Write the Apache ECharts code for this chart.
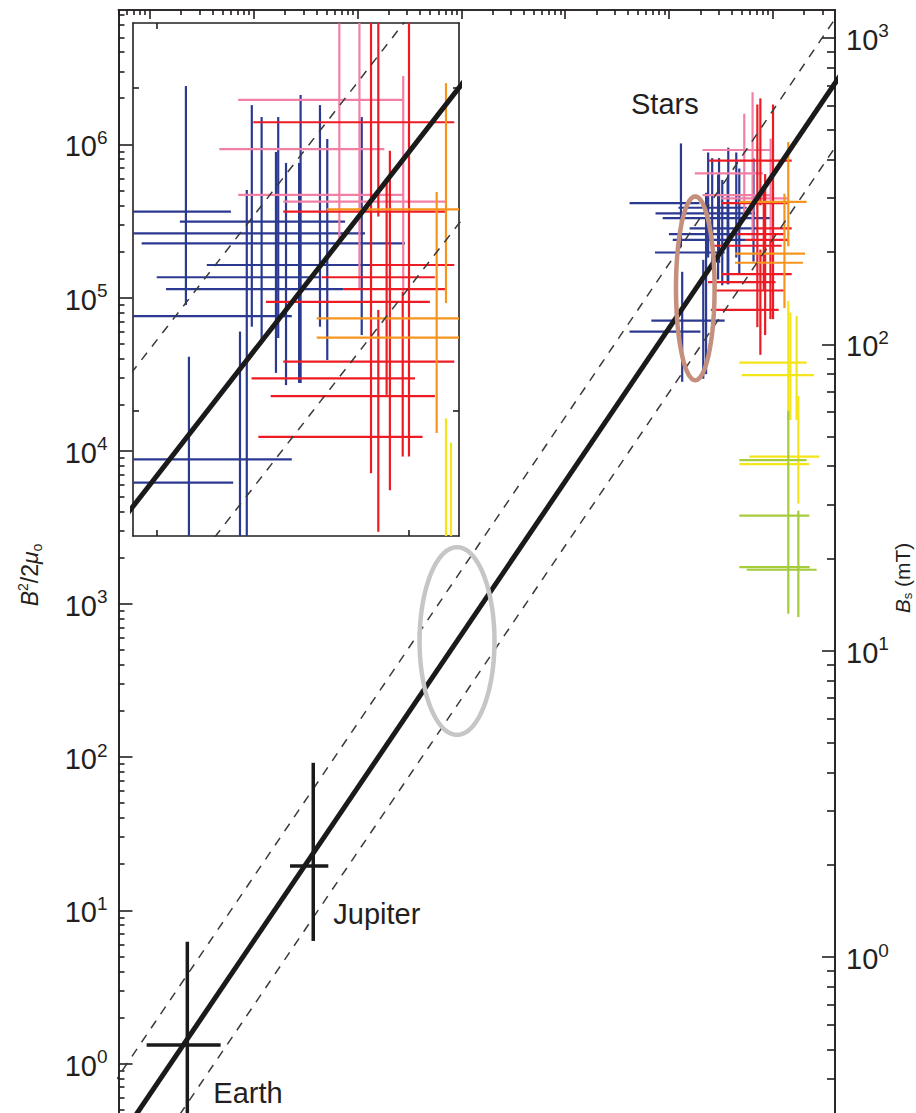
<!DOCTYPE html>
<html><head><meta charset="utf-8">
<script src="https://cdn.jsdelivr.net/npm/echarts@6/dist/echarts.min.js"></script>
<style>html,body{margin:0;padding:0;background:#fff}#c{width:916px;height:1113px}</style>
</head><body><div id="c"></div>
<script>
// ---------- DATA (all values are log10) ----------
// x: log10 of the abscissa (its labels are cropped off), y: log10(B^2/2mu0)
const eDecades = [0, 1, 2, 3, 4, 5, 6];          // left-axis labels 10^n
const bDecades = [0, 1, 2, 3];                   // right-axis labels 10^n (mT)
const xDecades = [0, 1, 2, 3, 4, 5, 6];          // top-axis major ticks
const insetDecades = [5, 6];                     // inset ticks

// model line and its dashed envelope
const fitLineX   = [-1, 7];
const fitLineY   = [-1.2, 6.8];
const dashUpperY = [-0.78, 7.22];
const dashLowerY = [-1.62, 6.38];

// planets: centre and error ranges
const planetNames = ['Earth', 'Jupiter'];
const planetX   = [0.36, 1.573];
const planetXLo = [-0.032, 1.349];
const planetXHi = [0.681, 1.718];
const planetY   = [0.121, 1.289];
const planetYLo = [-0.9, 0.80];
const planetYHi = [0.795, 1.963];

// stars: horizontal bars [y, xLo, xHi] and vertical bars [x, yLo, yHi]
const blueH = [[5.617,4.62,5.294],[5.586,5.091,5.748],[5.550,4.87,5.827],[5.519,4.939,5.986],
  [5.452,5.198,5.854],[5.414,4.999,5.648],[5.377,5.036,5.740],[5.294,4.865,5.536],
  [4.850,4.83,5.536],[4.778,4.62,5.303]];
const blueV = [[5.115,5.328,6.006],[5.127,4.45,5.168],[5.330,4.47,5.246],[5.357,4.50,5.684],
  [5.377,5.261,5.947],[5.416,5.220,5.910],[5.482,5.226,5.910],[5.473,5.118,5.802],
  [5.571,5.087,5.978],[5.565,5.087,5.768],[5.513,5.080,5.768],[5.648,5.261,5.947],
  [5.677,5.158,5.842],[5.814,5.235,5.910]];
const pinkH = [[5.963,5.323,5.979],[5.811,5.248,5.904],[5.669,5.323,5.979],[5.648,5.502,6.152]];
const pinkV = [[5.725,5.520,6.20],[5.805,5.381,6.34],[5.979,5.369,6.037]];
const redH = [[5.894,5.383,6.182],[5.617,5.502,6.145],[5.452,5.854,6.182],[5.414,5.655,6.105],
  [5.377,5.740,6.145],[5.338,5.433,6.085],[5.153,5.502,6.182],[5.101,5.376,6.026],
  [5.046,5.452,6.105],[4.920,5.403,6.056]];
const redV = [[5.851,4.807,6.26],[5.880,5.602,6.30],[5.880,4.626,5.313],[5.913,5.050,5.715],
  [5.926,4.755,5.806],[6.002,4.859,6.26],[5.977,4.859,5.369]];
const orangeH = [[5.624,5.675,6.326],[5.287,5.635,6.31],[5.227,5.635,6.29]];
const orangeV = [[6.149,5.334,6.015],[6.112,4.932,5.678]];
const yellowH = [[4.575,5.677,6.326],[4.493,5.700,6.397],[3.961,5.773,6.447],[3.913,5.677,6.351]];
const yellowV = [[6.149,4.20,4.977],[6.169,4.20,4.902],[6.229,4.20,4.879],[6.246,3.655,4.358]];
const greenH = [[3.939,5.677,6.326],[3.577,5.677,6.351],[3.240,5.677,6.355],[3.223,5.749,6.422]];
const greenV = [[6.149,2.936,4.261],[6.246,2.914,3.609]];

// highlighted regions: [cx, cy, rx, ry] in decades
const grayEllipse  = [2.958, 2.758, 0.361, 0.613];
const brownEllipse = [5.253, 5.060, 0.186, 0.600];

// ---------- LAYOUT ----------
const MX = [-0.303, 6.599], MY = [-0.323, 6.877];
const toB = v => (v - 0.695) / 2;                 // log10(E) -> log10(Bs / mT)
const IX = [4.9046, 6.2008], IY = [4.6130, 6.2012];
const INK = '#231f20', FONT = 'Liberation Sans, Arial, sans-serif';

function minorTicks(lo, hi) {
  const out = [];
  for (let n = Math.floor(lo) - 1; n <= Math.ceil(hi); n++)
    for (let k = 2; k <= 9; k++) { const v = n + Math.log10(k); if (v > lo && v < hi) out.push(v); }
  return out;
}
const lineAx = {show: true, onZero: false, lineStyle: {color: INK, width: 1.6}};
function axis(gridIndex, position, range, ticks, len, extra) {
  return Object.assign({
    type: 'value', gridIndex, position, min: range[0], max: range[1],
    axisLine: lineAx, splitLine: {show: false},
    axisTick: {show: true, inside: true, length: len, customValues: ticks, lineStyle: {color: INK, width: 1.6}},
    axisLabel: {show: false}
  }, extra || {});
}
const powLabel = (vals, align) => ({
  show: true, customValues: vals, margin: 11, align,
  formatter: v => '{b|10}{s|' + Math.round(v) + '}',
  rich: {b: {fontSize: 29, fontFamily: FONT, color: INK, lineHeight: 33, verticalAlign: 'bottom'},
         s: {fontSize: 19, fontFamily: FONT, color: INK, lineHeight: 19, verticalAlign: 'top'}}
});

function segs(H, V) {
  return H.map(h => [h[1], h[0], h[2], h[0]]).concat(V.map(v => [v[0], v[1], v[0], v[2]]));
}
function barSeries(data, color, xi, yi, w, z) {
  return {
    type: 'custom', xAxisIndex: xi, yAxisIndex: yi, clip: true, silent: true, z: z || 2,
    data, encode: {x: [0, 2], y: [1, 3]},
    renderItem(params, api) {
      const cs = params.coordSys;
      const a = api.coord([api.value(0), api.value(1)]);
      const b = api.coord([api.value(2), api.value(3)]);
      const x0 = cs.x, x1 = cs.x + cs.width, y0 = cs.y, y1 = cs.y + cs.height;
      const cl = (v, lo, hi) => Math.max(lo, Math.min(hi, v));
      if (Math.abs(a[1] - b[1]) < 0.01 && (a[1] < y0 || a[1] > y1)) return;
      if (Math.abs(a[0] - b[0]) < 0.01 && (a[0] < x0 || a[0] > x1)) return;
      const s = {x1: cl(a[0], x0, x1), y1: cl(a[1], y0, y1), x2: cl(b[0], x0, x1), y2: cl(b[1], y0, y1)};
      if (s.x1 === s.x2 && s.y1 === s.y2) return;
      return {type: 'line', shape: s, style: {stroke: color, lineWidth: w}};
    }
  };
}
const starSets = [
  ['#2b3990', segs(blueH, blueV)], ['#f27fa5', segs(pinkH, pinkV)], ['#ed1c24', segs(redH, redV)],
  ['#f7941e', segs(orangeH, orangeV)], ['#f3e51a', segs(yellowH, yellowV)], ['#a6cb3b', segs(greenH, greenV)]
];
function ellipsePts(e) {
  const pts = [];
  for (let i = 0; i <= 90; i++) { const t = i / 90 * 2 * Math.PI; pts.push([e[0] + e[2] * Math.cos(t), e[1] + e[3] * Math.sin(t)]); }
  return pts;
}
const pair = (xs, ys) => xs.map((x, i) => [x, ys[i]]);

const series = [];
// main grid (x0, y0) and inset (x2, y4)
[[0, 0, 2.2], [2, 4, 2.2]].forEach(([xi, yi, w]) => {
  starSets.forEach(([c, d]) => series.push(barSeries(d, c, xi, yi, w)));
  [dashUpperY, dashLowerY].forEach(ys => series.push({
    type: 'line', xAxisIndex: xi, yAxisIndex: yi, data: pair(fitLineX, ys), symbol: 'none', silent: true, z: 4,
    lineStyle: {color: '#3a3a3a', width: 1.5, type: [9, 8]}
  }));
  series.push({type: 'line', xAxisIndex: xi, yAxisIndex: yi, data: pair(fitLineX, fitLineY), symbol: 'none', silent: true, z: 5,
    lineStyle: {color: '#1a1a1a', width: 5}});
});
// ellipses (main only)
series.push({type: 'line', xAxisIndex: 0, yAxisIndex: 0, data: ellipsePts(grayEllipse), symbol: 'none', silent: true, z: 6,
  lineStyle: {color: '#c6c6c6', width: 4.5}});
series.push({type: 'line', xAxisIndex: 0, yAxisIndex: 0, data: ellipsePts(brownEllipse), symbol: 'none', silent: true, z: 6,
  lineStyle: {color: '#c48f7c', width: 4.5}});
// planets
const planetSegs = [];
planetNames.forEach((n, i) => {
  planetSegs.push([planetXLo[i], planetY[i], planetXHi[i], planetY[i]]);
  planetSegs.push([planetX[i], planetYLo[i], planetX[i], planetYHi[i]]);
});
series.push(barSeries(planetSegs, '#1a1a1a', 0, 0, 3.5, 7));
const labelOffsets = [[26, 48], [20, 48]];   // label placement next to each cross, px
series.push({
  type: 'custom', xAxisIndex: 0, yAxisIndex: 0, silent: true, z: 8,
  data: planetNames.map((n, i) => [planetX[i], planetY[i], i]),
  renderItem(params, api) {
    const p = api.coord([api.value(0), api.value(1)]);
    const i = api.value(2);
    return {type: 'text', x: p[0] + labelOffsets[i][0], y: p[1] + labelOffsets[i][1],
      style: {text: planetNames[i], fontSize: 29, fontFamily: FONT, fill: INK, align: 'left', verticalAlign: 'middle'}};
  }
});

const option = {
  animation: false,
  backgroundColor: '#fff',
  grid: [
    {left: 118.5, right: 81, top: 10, bottom: 0},
    {left: 133, right: 457, top: 23, bottom: 577}
  ],
  xAxis: [
    axis(0, 'top', MX, xDecades, 9),
    axis(0, 'top', MX, minorTicks(MX[0], MX[1]), 5),
    axis(1, 'bottom', IX, insetDecades, 6),
    axis(1, 'top', IX, insetDecades, 6)
  ],
  yAxis: [
    axis(0, 'left', MY, eDecades, 14, {axisLabel: powLabel(eDecades, 'right')}),
    axis(0, 'left', MY, minorTicks(MY[0], MY[1]), 6),
    axis(0, 'right', [toB(MY[0]), toB(MY[1])], bDecades, 13, {axisLabel: powLabel(bDecades, 'left')}),
    axis(0, 'right', [toB(MY[0]), toB(MY[1])], minorTicks(toB(MY[0]), toB(MY[1])), 8),
    axis(1, 'left', IY, insetDecades, 6),
    axis(1, 'right', IY, insetDecades, 6)
  ],
  graphic: [
    {type: 'text', x: 631, y: 104, silent: true, style: {text: 'Stars', fontSize: 29, fontFamily: FONT, fill: INK, verticalAlign: 'middle'}},
    {type: 'text', x: 30, y: 575, rotation: Math.PI / 2, silent: true,
      style: {text: '{i|B}{s|2}{n|/2}{i|μ}{u|o}', align: 'center', verticalAlign: 'middle', fill: INK,
        rich: {i: {fontSize: 23, fontStyle: 'italic', fontFamily: FONT, fill: INK, lineHeight: 28},
               n: {fontSize: 23, fontFamily: FONT, fill: INK, lineHeight: 28},
               s: {fontSize: 14, fontFamily: FONT, fill: INK, verticalAlign: 'top', lineHeight: 14},
               u: {fontSize: 14, fontFamily: FONT, fill: INK, verticalAlign: 'bottom', lineHeight: 14}}}},
    {type: 'text', x: 902, y: 578, rotation: Math.PI / 2, silent: true,
      style: {text: '{i|B}{u|s}{n| (mT)}', align: 'center', verticalAlign: 'middle', fill: INK,
        rich: {i: {fontSize: 21, fontStyle: 'italic', fontFamily: FONT, fill: INK, lineHeight: 24},
               n: {fontSize: 21, fontFamily: FONT, fill: INK, lineHeight: 24},
               u: {fontSize: 13, fontFamily: FONT, fill: INK, verticalAlign: 'bottom', lineHeight: 13}}}}
  ],
  series
};
const chart = echarts.init(document.getElementById('c'), null, {renderer: 'svg', width: 916, height: 1113});
chart.setOption(option);
</script></body></html>
